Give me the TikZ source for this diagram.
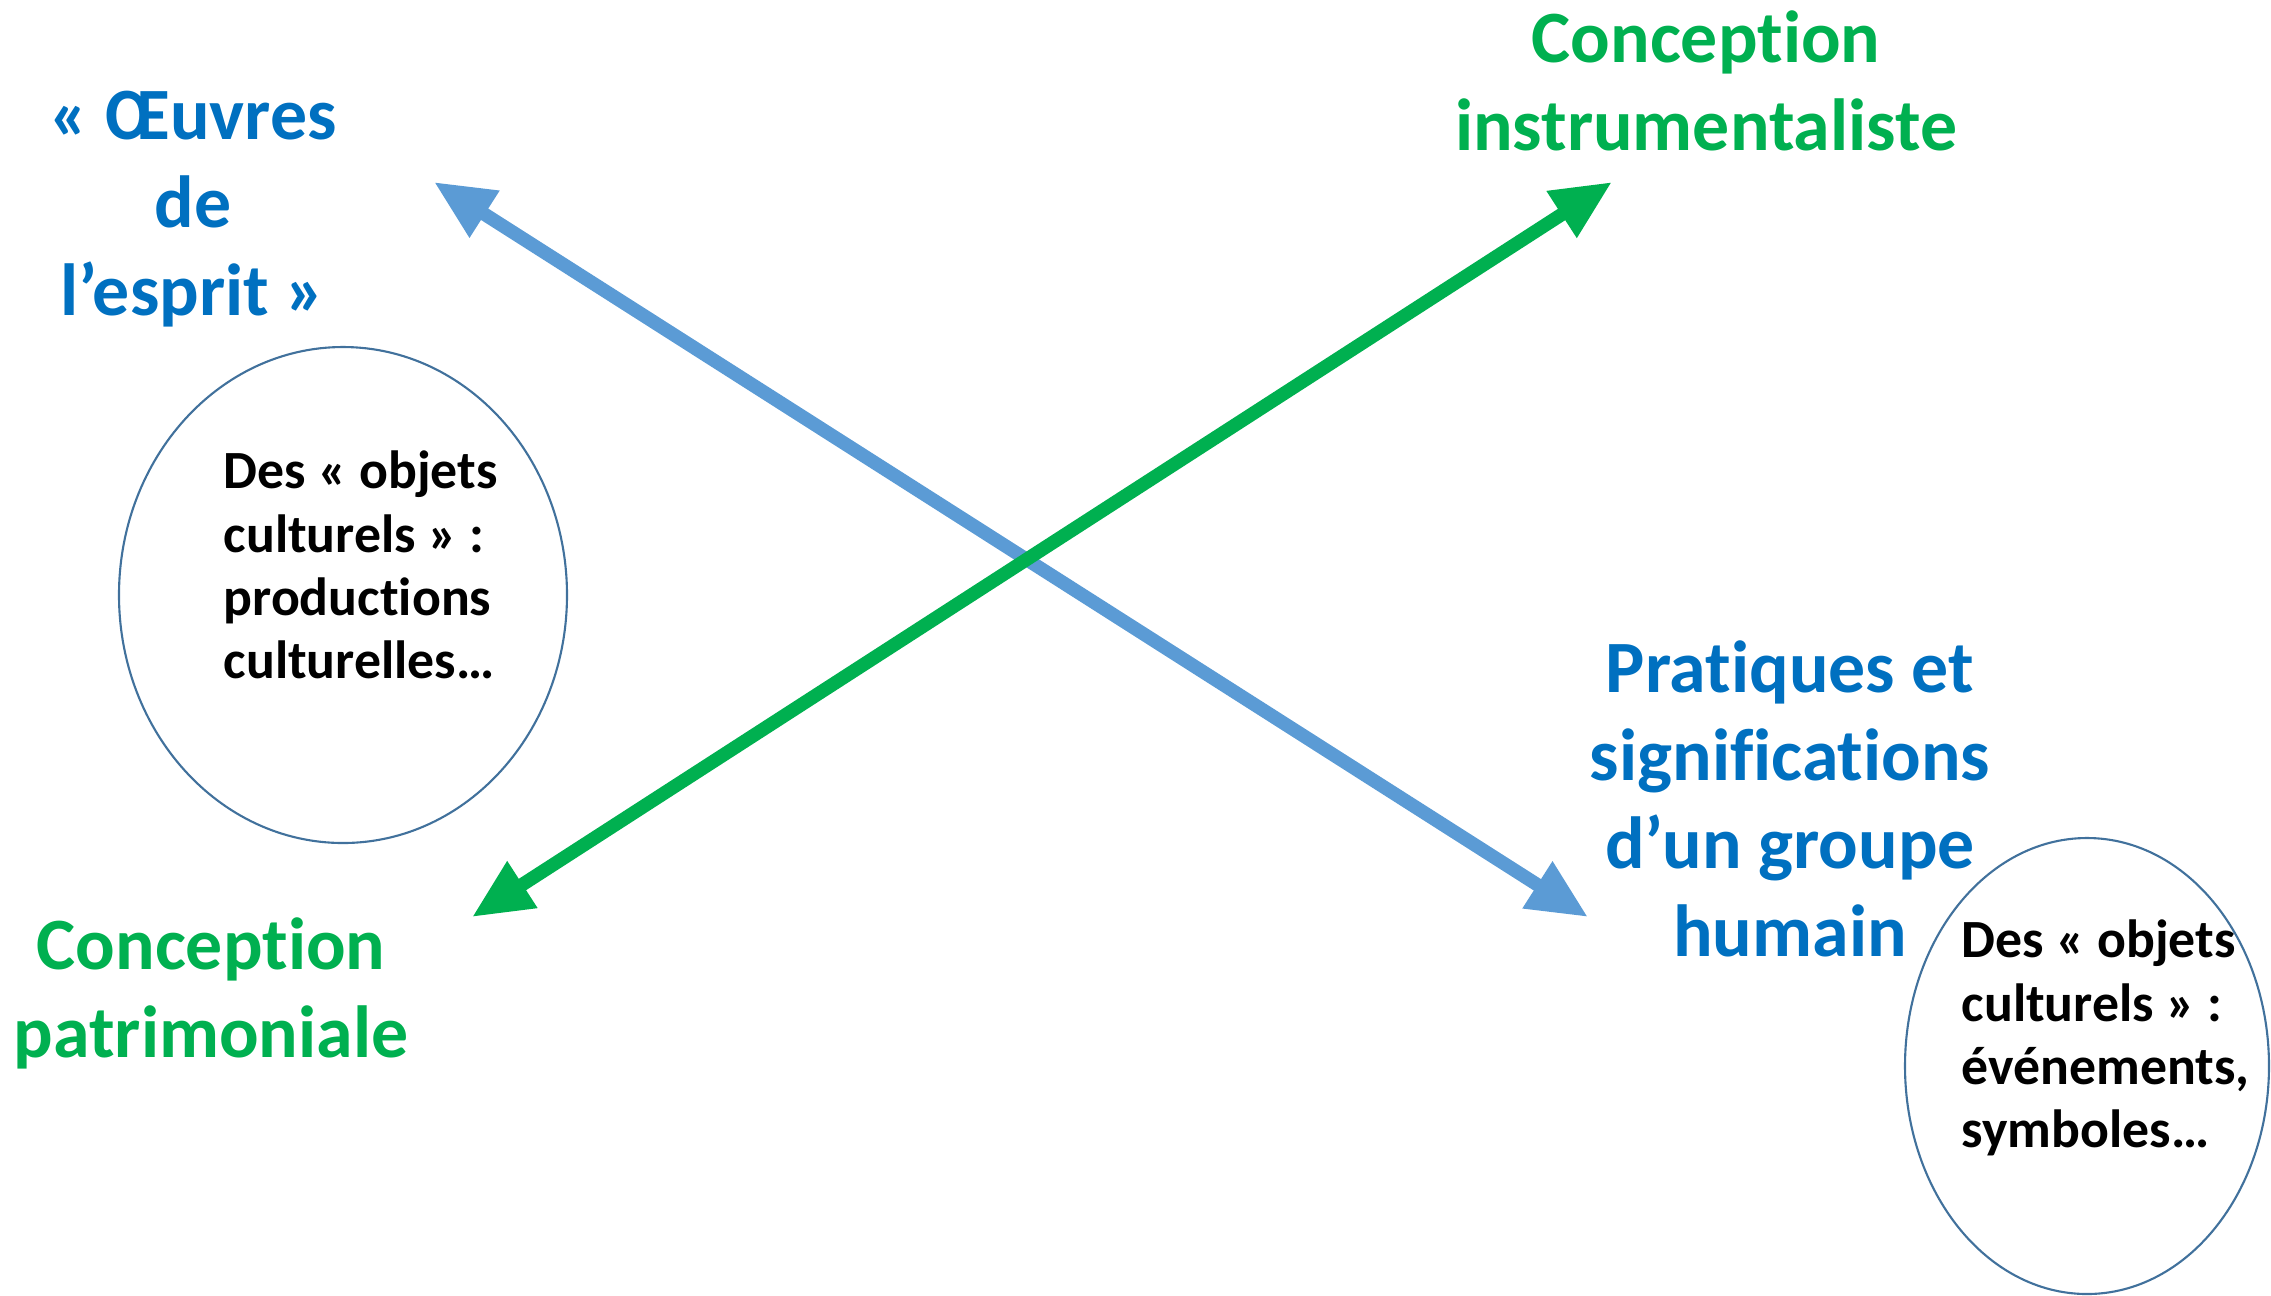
\documentclass[tikz,border=0pt]{standalone}
\usepackage{fontspec}
\setmainfont{Carlito}[Ligatures=NoCommon]
\usepackage{xcolor}
\usepackage{tikz}
\usetikzlibrary{shapes,arrows.meta,positioning}

\definecolor{poleblue}{HTML}{0070C0}
\definecolor{polegreen}{HTML}{00B050}
\definecolor{arrowblue}{HTML}{5B9BD5}
\definecolor{ringblue}{HTML}{41719C}

\begin{document}
\begin{tikzpicture}[
    pole/.style={text=poleblue, align=center, inner sep=0pt, font=\fontsize{21}{25}\selectfont\bfseries},
    conception/.style={text=polegreen, align=center, inner sep=0pt, font=\fontsize{21}{25}\selectfont\bfseries},
    objet/.style={text=black, align=left, anchor=west, inner sep=0pt, font=\fontsize{15.3}{18}\selectfont\bfseries},
    bulle/.style={ellipse, draw=ringblue, line width=0.6pt, inner sep=0pt},
    fleche/.style={{Triangle[length=6mm,width=5.2mm]}-{Triangle[length=6mm,width=5.2mm]}, line width=1.35mm}
]
\useasboundingbox (0,0) rectangle (22.71,-12.95);

% Poles
\node[pole] (oeuvres) at (1.93,-2.09) {« Œuvres\\de\\l’esprit »};
\node[pole] (pratiques) at (17.90,-7.99) {Pratiques et\\significations\\d’un groupe\\humain};

% Conceptions
\node[conception] (instru) at (17.06,-0.81) {Conception\\instrumentaliste};
\node[conception] (patri) at (2.11,-9.93) {Conception\\patrimoniale};

% Objets culturels
\node[bulle, minimum width=4.48cm, minimum height=4.96cm] (bulle1) at (3.43,-5.95) {};
\node[objet] (objets1) at (2.23,-5.65) {Des « objets\\culturels » :\\productions\\culturelles…};
\node[bulle, minimum width=3.64cm, minimum height=4.56cm] (bulle2) at (20.87,-10.66) {};
\node[objet] (objets2) at (19.61,-10.38) {Des « objets\\culturels » :\\événements,\\symboles…};

% Arrow ends
\coordinate (bleuA) at (4.34,-1.82);
\coordinate (bleuB) at (15.88,-9.17);
\coordinate (vertA) at (16.12,-1.82);
\coordinate (vertB) at (4.72,-9.17);

% Connections
\draw[fleche, arrowblue] (bleuA) -- (bleuB);
\draw[fleche, polegreen] (vertA) -- (vertB);

\end{tikzpicture}
\end{document}
